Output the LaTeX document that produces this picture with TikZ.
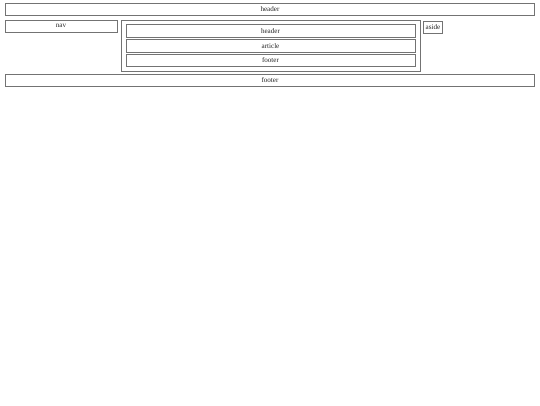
\documentclass[tikz,border=0pt]{standalone}
\usepackage{fontspec}
\setmainfont{Liberation Serif}
\usepackage{tikz}

\begin{document}
\begin{tikzpicture}[x=1pt, y=-1pt,
    region/.style={draw=black!55, line width=0.8pt, inner sep=0pt,
      text=black!85, font=\fontsize{7.1}{7.5}\selectfont}]

  \useasboundingbox (0,0) rectangle (540,405);

  \node[region, minimum width=529.5, minimum height=12.5] (pagehead) at (270, 9.5)  {header};
  \node[region, minimum width=112, minimum height=12]   (nav)      at (61, 26.3)  {nav};
  \node[region, minimum width=299, minimum height=51]   (section)  at (270.5, 46.2) {};
  \node[region, minimum width=18.6, minimum height=11.6] (aside)   at (433, 27.3) {aside};

  \node[region, minimum width=289, minimum height=13]   (arthead)  at (270.5, 30.8) {header};
  \node[region, minimum width=289, minimum height=13]   (article)  at (270.5, 45.8) {article};
  \node[region, minimum width=289, minimum height=12.7] (artfoot)  at (270.5, 60.3) {footer};

  \node[region, minimum width=529.5, minimum height=12.7] (pagefoot) at (270, 80.3) {footer};

\end{tikzpicture}
\end{document}
